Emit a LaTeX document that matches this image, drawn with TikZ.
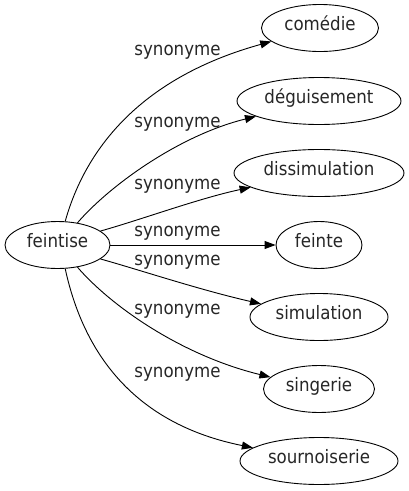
\documentclass[tikz,border=0pt]{standalone}
\usepackage{fontspec}
\setmainfont{DejaVu Sans}[FakeStretch=0.9]
\usetikzlibrary{arrows.meta,shapes.geometric}
\begin{document}
\begin{tikzpicture}[x=1pt,y=-1pt,
  every node/.style={font=\fontsize{18.5}{22}\selectfont, text=black!85},
  word/.style={draw=black, ellipse, line width=0.9pt, inner sep=0pt, minimum height=47pt, text height=0.72em, text depth=0.2em},
  lbl/.style={inner sep=0pt},
  syn/.style={line width=0.9pt, -{Triangle[length=11pt,width=8pt]}}]
\useasboundingbox (0,0) rectangle (409,491);
\node[word, minimum width=105pt] (feintise) at (57.5,245) {feintise};
\node[word, minimum width=117pt] (comedie) at (320,28) {comédie};
\node[word, minimum width=164pt] (deguisement) at (319,101) {déguisement};
\node[word, minimum width=170pt] (dissimulation) at (319,173) {dissimulation};
\node[word, minimum width=86pt] (feinte) at (319,245) {feinte};
\node[word, minimum width=138pt] (simulation) at (319,317) {simulation};
\node[word, minimum width=111pt] (singerie) at (319,389) {singerie};
\node[word, minimum width=158pt] (sournoiserie) at (319,461) {sournoiserie};

\draw[syn] (feintise.72) .. controls (88,140) and (150,75) .. (comedie);
\draw[syn] (feintise.48) .. controls (110,185) and (180,135) .. (deguisement);
\draw[syn] (feintise.18) .. controls (140,220) and (200,198) .. (dissimulation);
\draw[syn] (feintise.east) -- (feinte.west);
\draw[syn] (feintise.-18) .. controls (140,270) and (200,290) .. (simulation);
\draw[syn] (feintise.-48) .. controls (110,305) and (180,355) .. (singerie);
\draw[syn] (feintise.-72) .. controls (85,360) and (140,425) .. (sournoiserie);

\node[lbl] (l1) at (177.5,52) {synonyme};
\node[lbl] (l2) at (177.5,124) {synonyme};
\node[lbl] (l3) at (177.5,186) {synonyme};
\node[lbl] (l4) at (177.5,233) {synonyme};
\node[lbl] (l5) at (177.5,262) {synonyme};
\node[lbl] (l6) at (177.5,311) {synonyme};
\node[lbl] (l7) at (177.5,374) {synonyme};
\end{tikzpicture}
\end{document}
